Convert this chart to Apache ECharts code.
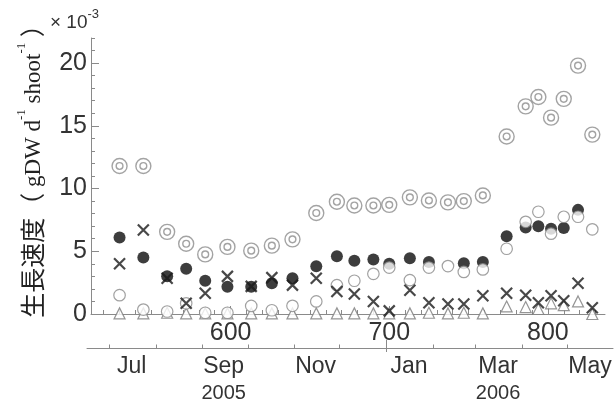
<!DOCTYPE html>
<html>
<head>
<meta charset="utf-8">
<script src="https://cdn.jsdelivr.net/npm/echarts@6/dist/echarts.min.js"></script>
<style>
  html, body { margin: 0; padding: 0; background: #fff; }
  #chart { width: 615px; height: 403px; }
</style>
</head>
<body>
<div id="chart"></div>
<script>
// Sampling days (day count axis) and growth rates (x10^-3 gDW d^-1 shoot^-1)
const days = [530, 545, 560, 572, 584, 598, 613, 626, 639, 654, 667, 678, 690,
              700, 713, 725, 737, 747, 759, 774, 786, 794, 802, 810, 819, 828];
const rateDoubleCircle = [11.8, 11.8, 6.55, 5.6, 4.75, 5.35, 5.05, 5.45, 5.95, 8.05, 8.95, 8.65, 8.65,
                          8.7, 9.3, 9.05, 8.9, 9.0, 9.45, 14.15, 16.55, 17.3, 15.65, 17.15, 19.8, 14.3];
const rateFilled = [6.1, 4.5, 3.0, 3.6, 2.65, 2.17, 2.17, 2.45, 2.85, 3.8, 4.6, 4.25, 4.35,
                    4.0, 4.45, 4.15, null, 4.05, 4.15, 6.2, 6.9, 7.0, 6.8, 6.85, 8.3, null];
const rateCross = [4.0, 6.7, 2.85, 0.85, 1.65, 3.0, 2.2, 2.9, 2.3, 2.85, 1.8, 1.6, 1.0,
                   0.25, 1.9, 0.9, 0.8, 0.8, 1.45, 1.65, 1.5, 0.9, 1.45, 1.05, 2.45, 0.5];
const rateOpen = [1.5, 0.35, 0.2, 0.85, 0.1, 0.1, 0.64, 0.3, 0.65, 1.0, 2.3, 2.65, 3.2,
                  3.7, 2.7, 3.7, 3.82, 3.35, 3.55, 5.2, 7.35, 8.15, 6.4, 7.75, 7.75, 6.75];
const rateTriangle = [0.05, 0.05, 0.1, 0.05, 0.05, 0.05, 0.05, 0.05, 0.05, 0.05, 0.05, 0.05, 0.05,
                      0.05, 0.05, 0.1, 0.05, 0.1, 0.05, 0.6, 0.55, 0.4, 0.85, 0.7, 1.0, 0];

// Axis ticks
const dayMajorTicks = [600, 700, 800];
const dayMinorTicks = [520, 530, 540, 550, 560, 570, 580, 590, 600, 610, 620, 630, 640, 650, 660, 670,
                       680, 690, 700, 710, 720, 730, 740, 750, 760, 770, 780, 790, 800, 810, 820, 830];
const yMajorTicks = [0, 5, 10, 15, 20];
const yMinorTicks = [0, 1, 2, 3, 4, 5, 6, 7, 8, 9, 10, 11, 12, 13, 14, 15, 16, 17, 18, 19, 20, 21, 22];

// Calendar axis: days counted from 1 July 2005
const monthStarts = [0, 31, 62, 92, 123, 153, 184, 215, 243, 274, 304];
const yearStarts = [184];
const monthLabelDays = [15, 76, 137, 199, 258, 319];
const monthNames = ['Jul', 'Sep', 'Nov', 'Jan', 'Mar', 'May'];
const yearNames = ['', '2005', '', '', '2006', ''];

const AXIS = '#8a8a8a';
const TEXT = '#333';
const NUM_FONT = 'Liberation Sans, Arial, sans-serif';

function pairs(vals) {
  return days.map((d, i) => [d, vals[i]]).filter(p => p[1] != null);
}

const chart = echarts.init(document.getElementById('chart'), null, { renderer: 'canvas' });

const mainRect = { left: 91, top: 38, right: 10, bottom: 89 };
const calRect = { left: 87, right: 2, top: 300, bottom: 51 };

const hiddenY = (g) => ({ gridIndex: g, type: 'value', min: 0, max: 1, show: false });

chart.setOption({
  animation: false,
  backgroundColor: '#fff',
  grid: [
    Object.assign({}, mainRect),
    Object.assign({}, mainRect),
    Object.assign({}, calRect),
    Object.assign({}, calRect)
  ],
  xAxis: [
    {
      gridIndex: 0, type: 'value', min: 512, max: 836, position: 'bottom',
      axisLine: { show: true, onZero: false, lineStyle: { color: AXIS, width: 1 } },
      axisTick: { show: true, inside: true, length: 8, customValues: dayMajorTicks, lineStyle: { color: AXIS } },
      axisLabel: { show: true, customValues: dayMajorTicks, margin: 7, color: TEXT, fontSize: 25, fontFamily: NUM_FONT },
      splitLine: { show: false }
    },
    {
      gridIndex: 1, type: 'value', min: 512, max: 836, position: 'bottom',
      axisLine: { show: false },
      axisTick: { show: true, inside: true, length: 4, customValues: dayMinorTicks, lineStyle: { color: AXIS } },
      axisLabel: { show: false },
      splitLine: { show: false }
    },
    {
      gridIndex: 2, type: 'value', min: -14.6, max: 334.2, position: 'bottom',
      axisLine: { show: true, onZero: false, lineStyle: { color: AXIS, width: 1 } },
      axisTick: { show: true, inside: true, length: 4, customValues: monthStarts, lineStyle: { color: AXIS } },
      axisLabel: {
        show: true, customValues: monthLabelDays, margin: 4, color: TEXT, fontFamily: NUM_FONT,
        formatter: function (v) {
          const i = monthLabelDays.indexOf(v);
          if (i < 0) return '';
          return yearNames[i] ? '{m|' + monthNames[i] + '}\n{y|' + yearNames[i] + '}' : '{m|' + monthNames[i] + '}';
        },
        rich: {
          m: { fontSize: 23, lineHeight: 28, color: TEXT, fontFamily: NUM_FONT },
          y: { fontSize: 20, lineHeight: 25, color: TEXT, fontFamily: NUM_FONT }
        }
      },
      splitLine: { show: false }
    },
    {
      gridIndex: 3, type: 'value', min: -14.6, max: 334.2, position: 'bottom',
      axisLine: { show: false },
      axisTick: { show: true, inside: true, length: 12, customValues: yearStarts, lineStyle: { color: AXIS } },
      axisLabel: { show: false },
      splitLine: { show: false }
    }
  ],
  yAxis: [
    {
      gridIndex: 0, type: 'value', min: 0, max: 22,
      axisLine: { show: true, onZero: false, lineStyle: { color: AXIS, width: 1 } },
      axisTick: { show: true, inside: true, length: 8, customValues: yMajorTicks, lineStyle: { color: AXIS } },
      axisLabel: { show: true, customValues: yMajorTicks, margin: 4, color: TEXT, fontSize: 25, fontFamily: NUM_FONT },
      splitLine: { show: false }
    },
    {
      gridIndex: 1, type: 'value', min: 0, max: 22,
      axisLine: { show: false },
      axisTick: { show: true, inside: true, length: 4, customValues: yMinorTicks, lineStyle: { color: AXIS } },
      axisLabel: { show: false },
      splitLine: { show: false }
    },
    hiddenY(2),
    hiddenY(3)
  ],
  graphic: [
    {
      type: 'text', left: 50, top: 8, z: 10,
      style: {
        text: '{a|× 10}{s|-3}',
        rich: {
          a: { fontSize: 19, fill: TEXT, fontFamily: NUM_FONT, verticalAlign: 'bottom', lineHeight: 24 },
          s: { fontSize: 13, fill: TEXT, fontFamily: NUM_FONT, verticalAlign: 'top', lineHeight: 24 }
        }
      }
    },
    {
      type: 'text', x: 30, y: 165, rotation: Math.PI / 2, z: 10,
      style: {
        text: '{c|生長速度（}{l| gDW d}{s|-1}{l| shoot}{s|-1}{c| ）}',
        align: 'center', verticalAlign: 'middle',
        rich: {
          c: { fontSize: 25, fill: '#222', fontFamily: 'Noto Sans CJK JP', lineHeight: 30, verticalAlign: 'bottom' },
          l: { fontSize: 23, fill: '#222', fontFamily: 'Liberation Serif, serif', lineHeight: 30, verticalAlign: 'bottom' },
          s: { fontSize: 13, fill: '#222', fontFamily: 'Liberation Serif, serif', lineHeight: 30, verticalAlign: 'top' }
        }
      }
    }
  ],
  series: [
    {
      name: 'doubleCircle', type: 'scatter', xAxisIndex: 0, yAxisIndex: 0, z: 1,
      symbol: 'path://M0,10A10,10 0 1 1 20,10A10,10 0 1 1 0,10ZM5.5,10A4.5,4.5 0 1 1 14.5,10A4.5,4.5 0 1 1 5.5,10Z',
      symbolSize: 15,
      itemStyle: { color: 'rgba(255,255,255,0)', borderColor: '#8c8c8c', borderWidth: 1.4 },
      data: pairs(rateDoubleCircle)
    },
    {
      name: 'triangle', type: 'scatter', xAxisIndex: 0, yAxisIndex: 0, z: 2,
      symbol: 'triangle', symbolSize: 11,
      itemStyle: { color: '#fff', borderColor: '#7a7a7a', borderWidth: 1.2 },
      data: pairs(rateTriangle)
    },
    {
      name: 'filled', type: 'scatter', xAxisIndex: 0, yAxisIndex: 0, z: 3,
      symbol: 'circle', symbolSize: 12,
      itemStyle: { color: '#0d0d0d' },
      data: pairs(rateFilled)
    },
    {
      name: 'open', type: 'scatter', xAxisIndex: 0, yAxisIndex: 0, z: 4,
      symbol: 'circle', symbolSize: 11.5,
      itemStyle: { color: '#fff', borderColor: '#8a8a8a', borderWidth: 1.2 },
      data: pairs(rateOpen)
    },
    {
      name: 'cross', type: 'scatter', xAxisIndex: 0, yAxisIndex: 0, z: 5,
      symbol: 'path://M0,0L10,10M10,0L0,10', symbolSize: 11,
      itemStyle: { color: 'rgba(0,0,0,0)', borderColor: '#1a1a1a', borderWidth: 2.2 },
      data: pairs(rateCross)
    }
  ]
});
</script>
</body>
</html>
